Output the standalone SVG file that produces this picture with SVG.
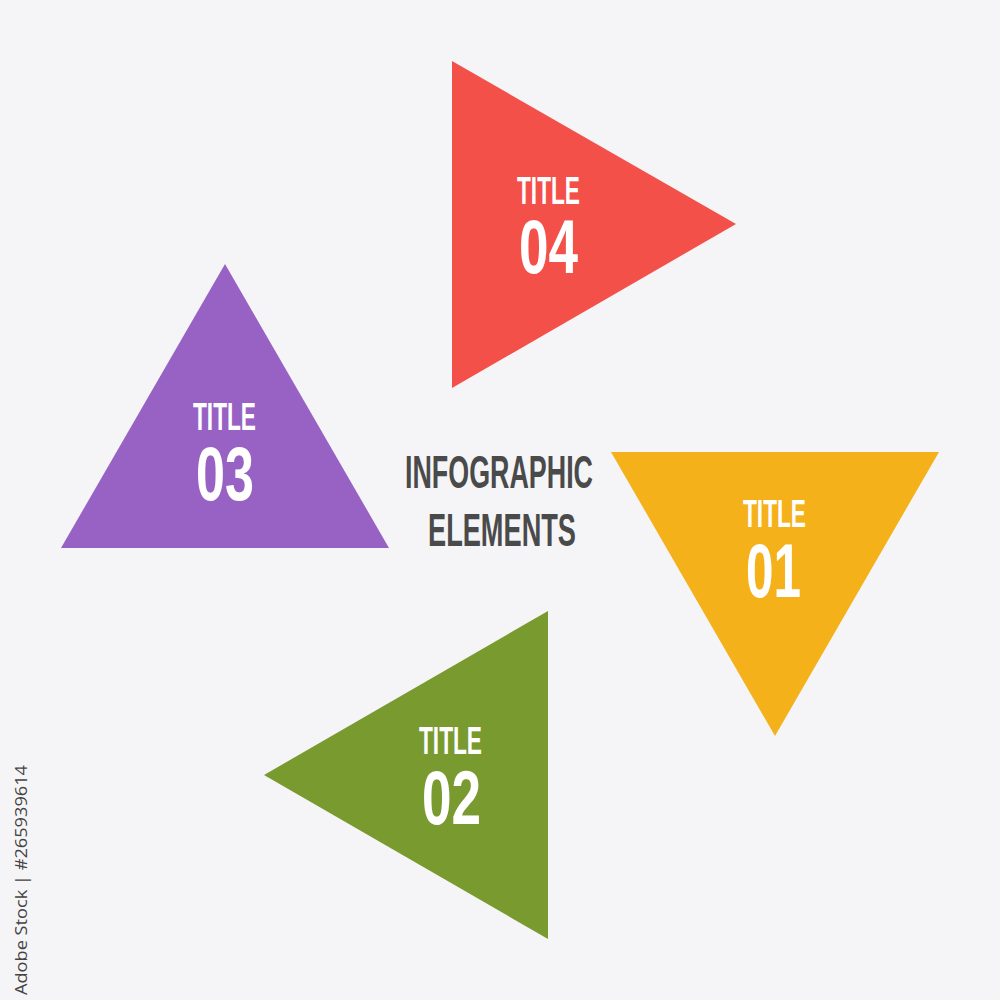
<svg xmlns="http://www.w3.org/2000/svg" width="1000" height="1000" viewBox="0 0 1000 1000">
<style>
.lbl{font-family:"Liberation Sans Narrow","Liberation Sans",Arial,sans-serif;font-weight:bold;fill:#ffffff;text-anchor:start}
.t{font-size:39px}
.n{font-size:76px}
.c{font-family:"Liberation Sans Narrow","Liberation Sans",Arial,sans-serif;font-weight:bold;fill:#4a4a4a;font-size:47px}
.wm{font-family:"Open Sans","DejaVu Sans",sans-serif;font-size:17px;fill:#444444}
</style>
<rect width="1000" height="1000" fill="#f5f5f7"/>
<g id="node-04">
<polygon points="452,61 452,388 736,224" fill="#f4504a"/>
<text class="lbl t" x="517" y="204" textLength="63" lengthAdjust="spacingAndGlyphs">TITLE</text>
<text class="lbl n" x="519" y="273" textLength="59" lengthAdjust="spacingAndGlyphs">04</text>
</g>
<g id="node-01">
<polygon points="611,452 939,452 775,736" fill="#f4b11a"/>
<text class="lbl t" x="743" y="527" textLength="63" lengthAdjust="spacingAndGlyphs">TITLE</text>
<text class="lbl n" x="746" y="597" textLength="55" lengthAdjust="spacingAndGlyphs">01</text>
</g>
<g id="node-03">
<polygon points="225,264 389,548 61,548" fill="#9762c4"/>
<text class="lbl t" x="193" y="430" textLength="63" lengthAdjust="spacingAndGlyphs">TITLE</text>
<text class="lbl n" x="196" y="500" textLength="58" lengthAdjust="spacingAndGlyphs">03</text>
</g>
<g id="node-02">
<polygon points="548,611 548,939 264,775" fill="#799a2e"/>
<text class="lbl t" x="419" y="754" textLength="63" lengthAdjust="spacingAndGlyphs">TITLE</text>
<text class="lbl n" x="422" y="824" textLength="59" lengthAdjust="spacingAndGlyphs">02</text>
</g>
<g id="center">
<text class="c" x="405" y="488" textLength="188" lengthAdjust="spacingAndGlyphs">INFOGRAPHIC</text>
<text class="c" x="428" y="546" textLength="148" lengthAdjust="spacingAndGlyphs">ELEMENTS</text>
</g>
<g id="connectors"></g>
<text class="wm" transform="translate(27,995) rotate(-90)" x="0" y="0" textLength="230" lengthAdjust="spacingAndGlyphs">Adobe Stock | #265939614</text>
</svg>
